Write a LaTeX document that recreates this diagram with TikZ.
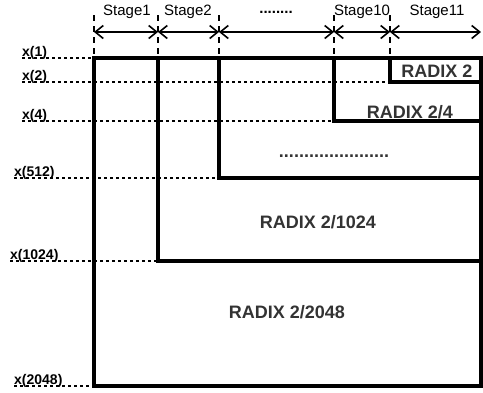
\documentclass[tikz,border=0pt]{standalone}
\usepackage{fontspec}
\setmainfont{Liberation Sans}
\usepackage{tikz}
\usetikzlibrary{positioning,arrows.meta}
\definecolor{radixGray}{HTML}{333333}
\tikzset{
  stageLabel/.style={font=\fontsize{15}{17}\selectfont, inner sep=0pt},
  inLabel/.style={font=\bfseries\fontsize{14}{16}\selectfont, inner sep=0pt, anchor=base west},
  radixLabel/.style={font=\bfseries\fontsize{18}{20}\selectfont, text=radixGray, inner sep=0pt},
  stageLine/.style={line width=1.8pt, dash pattern=on 6pt off 5pt},
  inputLine/.style={line width=1.8pt, dash pattern=on 3pt off 3pt},
  span/.style={{Straight Barb[length=8pt,width=13pt]}-{Straight Barb[length=8pt,width=13pt]}, line width=1.6pt},
  boxLine/.style={line width=3.6pt, line cap=rect}
}
\begin{document}
\begin{tikzpicture}[x=1pt, y=-1pt]
  \useasboundingbox (0,0) rectangle (483,392);
  % stage boundaries
  \foreach \n/\xx in {0/94, 1/158, 2/219, 3/334, 4/390} {
    \coordinate (top\n) at (\xx,15);
    \coordinate (bot\n) at (\xx,55);
    \coordinate (arr\n) at (\xx,32);
    \draw[stageLine] (top\n) -- (bot\n);
  }
  \coordinate (arr5) at (481,32);
  \foreach \a/\b in {0/1, 1/2, 2/3, 3/4, 4/5}
    \draw[span] (arr\a) -- (arr\b);

  \node[stageLabel] (st1) at (127,12) {Stage1};
  \node[stageLabel] (st2) at (188,12) {Stage2};
  \node[stageLabel] (stdots) at (276,12) {\textbf{........}};
  \node[stageLabel] (st10) at (362,12) {Stage10};
  \node[stageLabel] (st11) at (437,12) {Stage11};

  % input labels and guide lines
  \node[inLabel] (in1) at (22,56) {x(1)};
  \node[inLabel] (in2) at (22,80) {x(2)};
  \node[inLabel] (in4) at (22,119) {x(4)};
  \node[inLabel] (in512) at (14,176) {x(512)};
  \node[inLabel] (in1024) at (10,259) {x(1024)};
  \node[inLabel] (in2048) at (14,384) {x(2048)};
  \coordinate (c1) at (94,58);
  \coordinate (c2) at (390,82);
  \coordinate (c4) at (334,121);
  \coordinate (c512) at (219,178);
  \coordinate (c1024) at (158,261);
  \coordinate (c2048) at (94,386);
  \foreach \k in {1,2,4,512,1024,2048}
    \draw[inputLine] (in\k.base west |- c\k) -- (c\k);

  % nested radix blocks
  \draw[boxLine] (c1) rectangle (481,386);
  \draw[boxLine] (c2 |- c1) -- (c2) -- (481,82);
  \draw[boxLine] (c4 |- c1) -- (c4) -- (481,121);
  \draw[boxLine] (c512 |- c1) -- (c512) -- (481,178);
  \draw[boxLine] (c1024 |- c1) -- (c1024) -- (481,261);

  \node[radixLabel] (r2) at (437,71) {RADIX 2};
  \node[radixLabel] (r4) at (410,112) {RADIX 2/4};
  \node[radixLabel] (rdots) at (334,156) {......................};
  \node[radixLabel] (r1024) at (318,222) {RADIX 2/1024};
  \node[radixLabel] (r2048) at (287,312) {RADIX 2/2048};
\end{tikzpicture}
\end{document}
